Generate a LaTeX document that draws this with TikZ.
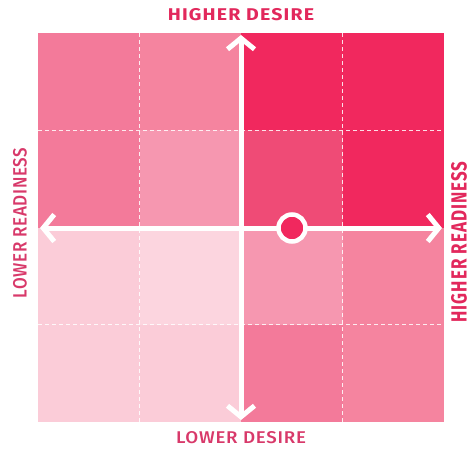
\documentclass[tikz,border=0pt]{standalone}
\usepackage{fontspec}
\setmainfont{Fira Sans}
\newfontfamily\qmedium{Fira Sans Medium}
\usetikzlibrary{arrows.meta}
% cell shades, strongest to lightest
\definecolor{qhot}{HTML}{F1285E}
\definecolor{qwarm}{HTML}{EF4B76}
\definecolor{qrose}{HTML}{F37A9A}
\definecolor{qroseB}{HTML}{F5849F}
\definecolor{qsoft}{HTML}{F697B0}
\definecolor{qpale}{HTML}{FBCCD8}
\definecolor{qpaleB}{HTML}{FCD5DF}
\definecolor{qtext}{HTML}{E2285C}
\definecolor{qtextlo}{HTML}{D8396A}
\tikzset{
  qgrid/.style={white, line width=0.9pt, dash pattern=on 4pt off 3pt, opacity=0.85},
  qaxis/.style={white, line width=5pt, {Straight Barb[length=11pt, width=27pt]}-{Straight Barb[length=11pt, width=27pt]}},
  qhigh/.style={font=\bfseries\addfontfeatures{LetterSpace=6}\fontsize{17}{18}\selectfont, text=qtext, inner sep=0pt, xscale=1.15},
  qlow/.style={font=\qmedium\addfontfeatures{LetterSpace=4}\fontsize{17}{18}\selectfont, text=qtextlo, inner sep=0pt, xscale=1.1},
  qmark/.style={circle, draw=white, line width=4.5pt, fill=qhot, minimum size=27pt, inner sep=0pt},
}

\begin{document}
\begin{tikzpicture}[x=1pt, y=-1pt]
    \useasboundingbox (0,0) rectangle (471,451);
    % 4x4 cells, row by row from the top
    \foreach \c [count=\i from 0] in {qrose,qroseB,qhot,qhot, qrose,qsoft,qwarm,qhot, qpale,qpaleB,qsoft,qroseB, qpale,qpale,qrose,qroseB}{
      \pgfmathtruncatemacro{\col}{mod(\i,4)}
      \pgfmathtruncatemacro{\row}{int(\i/4)}
      \fill[\c] (38+101.5*\col,33+97.25*\row) rectangle ++(101.5,97.25);
    }
    % dashed cell borders
    \draw[qgrid] (139.5,33) -- (139.5,422);
    \draw[qgrid] (342.5,33) -- (342.5,422);
    \draw[qgrid] (38,130.25) -- (444,130.25);
    \draw[qgrid] (38,324.75) -- (444,324.75);
    % axes
    \coordinate (vtop) at (241,35);
    \coordinate (vbot) at (241,420);
    \coordinate (hleft) at (40,228);
    \coordinate (hright) at (442,228);
    \draw[qaxis] (vbot) -- (vtop);
    \draw[qaxis] (hleft) -- (hright);
    \node[qmark] (pos) at (292,228) {};
    % axis labels
    \node[qhigh] (desirehi) at (241,15) {HIGHER DESIRE};
    \node[qlow] (desirelo) at (241,438) {LOWER DESIRE};
    \node[qlow, rotate=90, yscale=1.03] (readylo) at (20,223) {LOWER READINESS};
    \node[qhigh, rotate=90, yscale=1.12] (readyhi) at (459,242) {HIGHER READINESS};
  \end{tikzpicture}
\end{document}
